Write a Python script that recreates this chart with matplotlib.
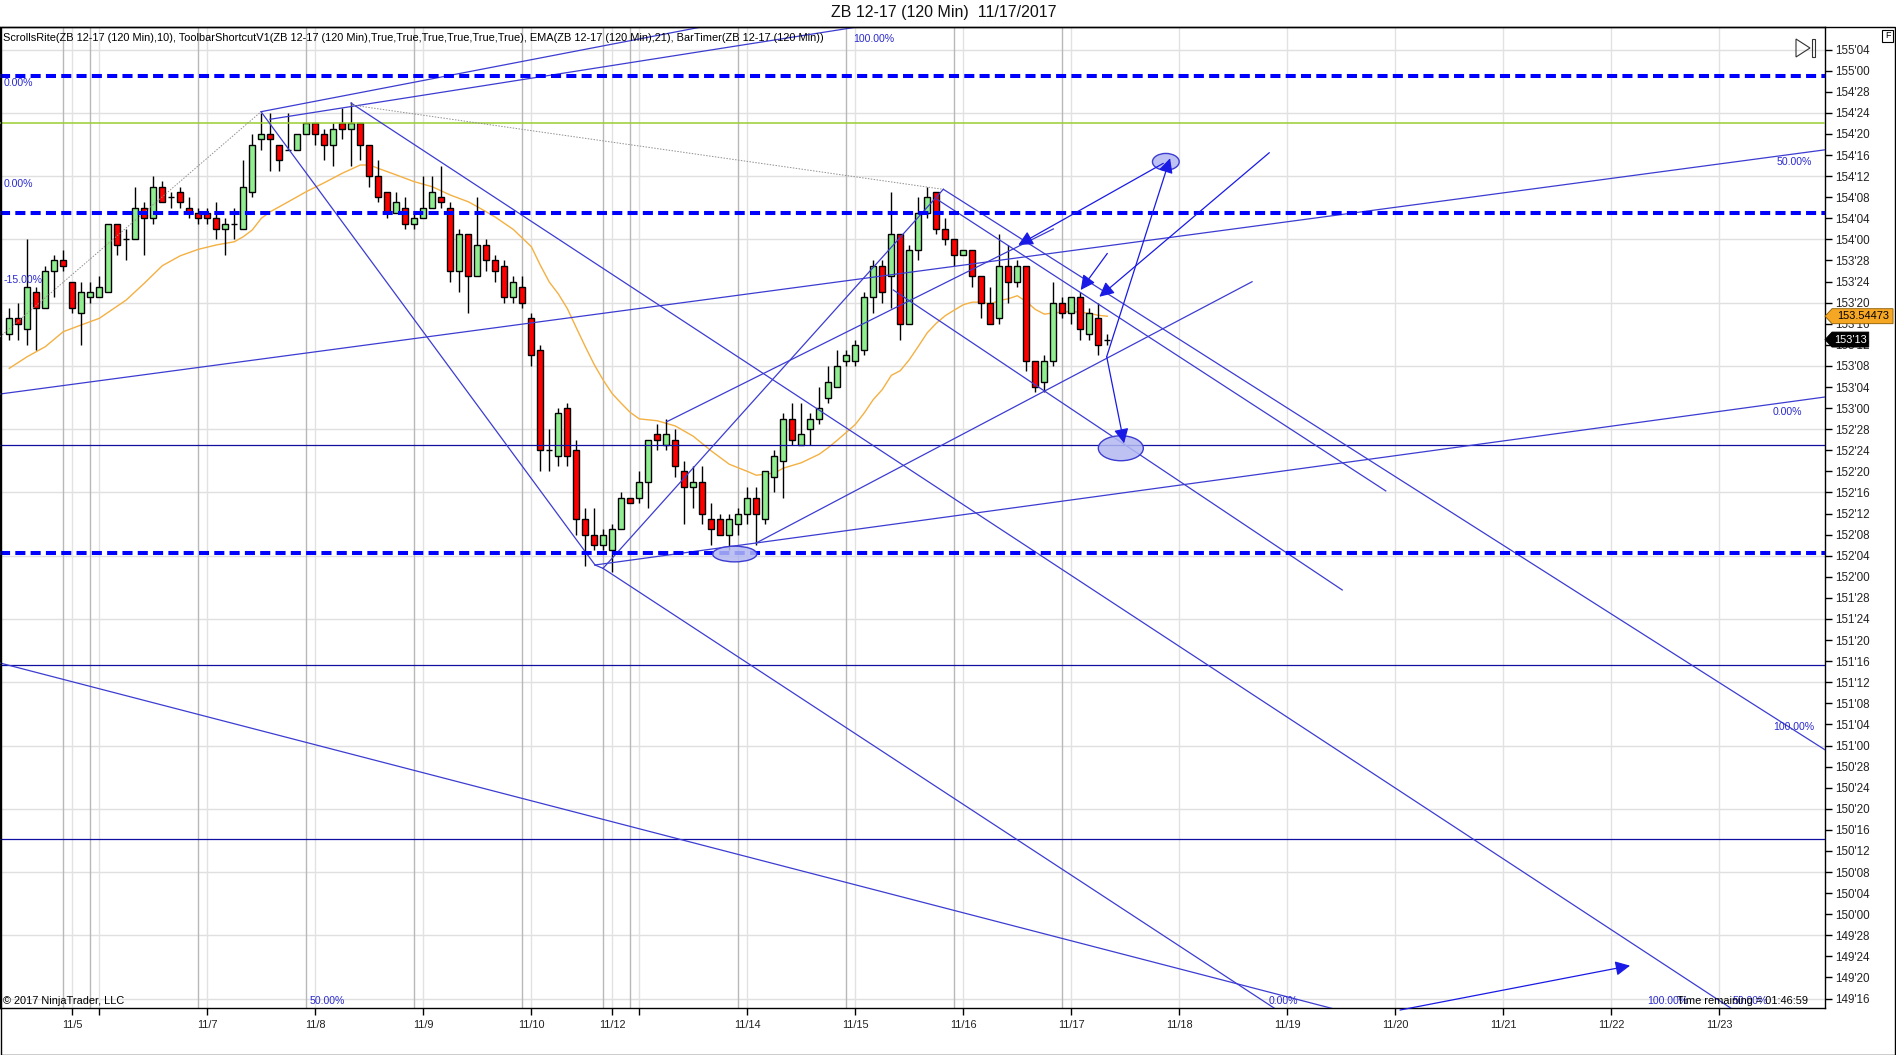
import numpy as np
import matplotlib.pyplot as plt
from matplotlib.patches import Ellipse, Polygon, Rectangle

plt.rcParams['font.family'] = ['Liberation Sans', 'DejaVu Sans']
NARROW = ['Liberation Sans Narrow', 'Liberation Sans', 'DejaVu Sans']

W, H = 1896, 1055

# ZB 12-17, 120 min bars (prices in 32nds)
opens = ["153'14", "153'17", "153'15", "153'22", "153'19", "153'26", "153'28", "153'24", "153'18", "153'21",
         "153'21", "153'22", "154'03", "154'00", "154'00", "154'06", "154'04", "154'10", "154'08", "154'09",
         "154'06", "154'05", "154'05", "154'04", "154'02", "154'03", "154'02", "154'09", "154'19", "154'20",
         "154'18", "154'17", "154'17", "154'20", "154'22", "154'20", "154'18", "154'22", "154'21", "154'22",
         "154'18", "154'12", "154'09", "154'05", "154'06", "154'03", "154'04", "154'06", "154'08", "154'06",
         "153'26", "154'01", "153'25", "153'31", "153'28", "153'27", "153'21", "153'23", "153'17", "153'11",
         "152'24", "152'23", "153'00", "152'24", "152'11", "152'08", "152'06", "152'05", "152'09", "152'15",
         "152'15", "152'18", "152'27", "152'25", "152'26", "152'20", "152'17", "152'18", "152'11", "152'11",
         "152'08", "152'10", "152'12", "152'15", "152'11", "152'19", "152'22", "152'30", "152'25", "152'28",
         "152'30", "153'02", "153'04", "153'09", "153'09", "153'11", "153'21", "153'27", "153'25", "154'01",
         "153'16", "153'30", "154'05", "154'09", "154'02", "154'00", "153'29", "153'30", "153'25", "153'20",
         "153'17", "153'27", "153'24", "153'27", "153'09", "153'05", "153'09", "153'20", "153'18", "153'21",
         "153'14", "153'17", "153'13"]
highs = ["153'19", "153'20", "154'00", "153'23", "153'27", "153'29", "153'30", "153'24", "153'24", "153'24",
         "153'25", "154'03", "154'03", "154'02", "154'10", "154'07", "154'12", "154'11", "154'09", "154'10",
         "154'08", "154'06", "154'06", "154'07", "154'04", "154'06", "154'15", "154'20", "154'24", "154'24",
         "154'18", "154'24", "154'20", "154'22", "154'22", "154'21", "154'22", "154'25", "154'26", "154'22",
         "154'18", "154'15", "154'09", "154'09", "154'08", "154'05", "154'12", "154'12", "154'14", "154'07",
         "154'02", "154'01", "154'08", "154'00", "153'29", "153'28", "153'25", "153'25", "153'18", "153'12",
         "152'28", "153'00", "153'01", "152'26", "152'13", "152'13", "152'09", "152'10", "152'16", "152'15",
         "152'20", "152'26", "152'29", "152'30", "152'28", "152'22", "152'21", "152'21", "152'14", "152'12",
         "152'12", "152'13", "152'17", "152'17", "152'20", "152'24", "152'31", "153'01", "153'01", "152'31",
         "153'04", "153'08", "153'11", "153'11", "153'13", "153'22", "153'28", "153'28", "154'09", "154'01",
         "153'31", "154'08", "154'10", "154'09", "154'04", "154'00", "153'30", "153'30", "153'25", "153'23",
         "154'01", "153'31", "153'28", "153'27", "153'09", "153'10", "153'24", "153'21", "153'21", "153'22",
         "153'19", "153'20", "153'14"]
lows = ["153'13", "153'13", "153'12", "153'11", "153'19", "153'21", "153'26", "153'18", "153'12", "153'20",
        "153'21", "153'22", "153'29", "153'28", "154'00", "153'29", "154'03", "154'07", "154'06", "154'06",
        "154'04", "154'03", "154'03", "154'00", "153'29", "154'00", "154'02", "154'08", "154'17", "154'13",
        "154'13", "154'17", "154'17", "154'20", "154'18", "154'15", "154'14", "154'19", "154'14", "154'15",
        "154'10", "154'07", "154'04", "154'05", "154'02", "154'02", "154'04", "154'06", "154'06", "153'24",
        "153'22", "153'18", "153'25", "153'26", "153'24", "153'20", "153'20", "153'19", "153'08", "152'20",
        "152'20", "152'21", "152'21", "152'08", "152'02", "152'05", "152'05", "152'01", "152'09", "152'14",
        "152'14", "152'13", "152'24", "152'24", "152'19", "152'10", "152'13", "152'10", "152'06", "152'08",
        "152'05", "152'08", "152'10", "152'06", "152'10", "152'16", "152'15", "152'25", "152'25", "152'25",
        "152'29", "153'01", "153'04", "153'08", "153'08", "153'10", "153'18", "153'20", "153'19", "153'13",
        "153'16", "153'28", "154'04", "154'01", "153'31", "153'27", "153'29", "153'23", "153'17", "153'16",
        "153'16", "153'20", "153'23", "153'07", "153'03", "153'03", "153'08", "153'17", "153'16", "153'13",
        "153'13", "153'10", "153'12"]
closes = ["153'17", "153'16", "153'23", "153'19", "153'26", "153'28", "153'27", "153'19", "153'22", "153'22",
          "153'23", "154'03", "153'31", "154'00", "154'06", "154'04", "154'10", "154'07", "154'08", "154'07",
          "154'05", "154'04", "154'04", "154'02", "154'03", "154'03", "154'10", "154'18", "154'20", "154'19",
          "154'15", "154'17", "154'20", "154'22", "154'20", "154'18", "154'21", "154'21", "154'22", "154'18",
          "154'12", "154'08", "154'05", "154'07", "154'03", "154'04", "154'06", "154'09", "154'07", "153'26",
          "154'01", "153'25", "153'31", "153'28", "153'26", "153'21", "153'24", "153'20", "153'10", "152'24",
          "152'24", "152'31", "152'23", "152'11", "152'08", "152'06", "152'08", "152'09", "152'15", "152'14",
          "152'18", "152'26", "152'26", "152'27", "152'21", "152'17", "152'18", "152'12", "152'09", "152'08",
          "152'11", "152'12", "152'15", "152'12", "152'20", "152'23", "152'30", "152'26", "152'27", "152'30",
          "153'00", "153'05", "153'08", "153'10", "153'12", "153'21", "153'27", "153'22", "154'01", "153'16",
          "153'30", "154'05", "154'08", "154'02", "154'00", "153'29", "153'30", "153'25", "153'20", "153'16",
          "153'27", "153'24", "153'27", "153'09", "153'04", "153'09", "153'20", "153'18", "153'21", "153'15",
          "153'18", "153'12", "153'13"]

# EMA(21), at bar index
ema_idx = [0, 2, 4, 6, 8, 10, 13, 15, 17, 19, 21, 23, 25, 26, 27, 28, 29, 31, 33, 35, 37, 39, 40, 41, 43, 45,
           47, 49, 51, 52, 54, 56, 58, 59, 60, 61, 62, 63, 64, 65, 66, 67, 68, 69, 70, 72, 74, 76, 78, 80, 82,
           83, 85, 86, 88, 90, 91, 92, 93, 94, 95, 96, 97, 98, 99, 100, 101, 102, 103, 104, 105, 106, 107, 108,
           109, 110, 111, 112, 113, 114, 115, 116, 118, 120, 121, 122]
ema_val = [153.236, 153.305, 153.364, 153.453, 153.493, 153.532, 153.641, 153.740, 153.844, 153.903, 153.941,
           153.967, 153.986, 154.016, 154.056, 154.125, 154.164, 154.223, 154.283, 154.336, 154.392, 154.441,
           154.441, 154.421, 154.382, 154.342, 154.312, 154.263, 154.223, 154.194, 154.132, 154.059, 153.957,
           153.847, 153.747, 153.677, 153.590, 153.476, 153.364, 153.257, 153.165, 153.085, 153.028, 152.974,
           152.936, 152.925, 152.894, 152.833, 152.746, 152.667, 152.625, 152.602, 152.615, 152.644, 152.676,
           152.727, 152.766, 152.810, 152.856, 152.903, 152.972, 153.051, 153.110, 153.194, 153.222, 153.287,
           153.366, 153.447, 153.503, 153.548, 153.581, 153.613, 153.628, 153.628, 153.617, 153.638, 153.648,
           153.666, 153.631, 153.585, 153.557, 153.564, 153.573, 153.562, 153.550, 153.54473]

# x axis: bar index of first bar of each session date
date_ticks = [7, 10, 22, 34, 46, 58, 67, 70, 82, 94, 106, 118, 130, 142, 154, 166, 178, 190]
date_labels = ["11/5", "", "11/7", "11/8", "11/9", "11/10", "11/12", "", "11/14", "11/15", "11/16",
               "11/17", "11/18", "11/19", "11/20", "11/21", "11/22", "11/23"]
session_breaks = [6, 9, 21, 33, 45, 57, 66, 69, 81, 93, 105, 117]

# drawing objects (bar index, price)
dashed_levels = [154.97, 154.157, 152.144]
green_level = 154.69
navy_levels = [152.781, 151.48, 150.445]
trend_lines = [
    (27.97, 154.757, 65.08, 152.070),
    (65.08, 152.070, 65.97, 152.050),
    (65.97, 152.050, 103.78, 154.297),
    (103.78, 154.297, 202.9, 150.935),
    (103.04, 154.239, 152.94, 152.509),
    (98.22, 153.700, 148.1, 151.922),
    (37.97, 154.808, 198.97, 149.174),
    (65.97, 152.050, 143.41, 149.343),
    (65.08, 152.070, 202.86, 153.074),
    (-1.03, 153.0835, 202.86, 154.539),
    (-1.03, 151.489, 154.52, 149.337),
    (27.97, 154.757, 77.86, 155.269),
    (28.97, 154.712, 95.63, 155.271),
    (73.04, 152.919, 116.0, 154.062),
    (82.97, 152.200, 138.08, 153.749),
]
gray_lines = [
    (-1.03, 153.423, 27.97, 154.757),
    (37.97, 154.797, 103.74, 154.297),
]
arrows = [
    (154.52, 149.432, 180.08, 149.695),
    (128.22, 154.451, 112.11, 153.967),
    (121.93, 153.305, 128.97, 154.481),
    (121.93, 153.305, 123.86, 152.791),
    (122.0, 153.917, 119.04, 153.700),
    (140.0, 154.514, 121.11, 153.660),
]
ellipses = [(80.6, 152.135, 4.9, 0.093), (128.5, 154.46, 2.97, 0.099), (123.5, 152.762, 5.0, 0.148)]
pct_labels = [
    ("0.00%", -0.59, 154.927, 'left'), ("0.00%", -0.59, 154.328, 'left'), ("-15.00%", -0.59, 153.759, 'left'),
    ("100.00%", 93.74, 155.190, 'left'), ("50.00%", 200.3, 154.459, 'right'),
    ("0.00%", 199.2, 152.977, 'right'), ("100.00%", 200.6, 151.110, 'right'),
    ("50.00%", 33.4, 149.485, 'left'), ("0.00%", 139.9, 149.485, 'left'),
    ("100.00%", 182.0, 149.485, 'left'), ("50.00%", 191.5, 149.485, 'left'),
]


def p32(s):
    a, b = s.split("'")
    return int(a) + int(b) / 32.0


def fmt32(v):
    return "%d'%02d" % (int(v), int(round((v - int(v)) * 32)))


o = np.array([p32(s) for s in opens])
h = np.array([p32(s) for s in highs])
l = np.array([p32(s) for s in lows])
c = np.array([p32(s) for s in closes])
idx = np.arange(len(o))

fig = plt.figure(figsize=(W / 100, H / 100), dpi=100)
ax = fig.add_axes([0, 1 - 1008 / H, 1825 / W, (1008 - 27) / H])
ax.set_xlim(-1.033, 201.74)
ax.set_ylim(149.444, 155.259)

# grid
for y in np.arange(149.5, 155.2, 0.375):
    ax.axhline(y, color='#e0e0e0', lw=1, zorder=0)
for x in date_ticks:
    ax.axvline(x, color='#e2e2e2', lw=1, zorder=0)
for x in session_breaks:
    ax.axvline(x, color='#b8b8b8', lw=1, zorder=0)

# EMA
ax.plot(ema_idx, ema_val, color='#f4b042', lw=1, zorder=3)

# candles
col = np.where(c > o, '#90ee90', '#ff0000')
ax.vlines(idx, l, h, color='black', lw=1, zorder=4)
ax.bar(idx, np.abs(c - o), bottom=np.minimum(o, c), width=0.68, color=col,
       edgecolor='black', linewidth=1, zorder=5)

# drawings
for y in dashed_levels:
    ax.axhline(y, color='#0000ff', lw=2.9, dashes=(2.5, 1.3), zorder=7)
ax.axhline(green_level, color='#9acd32', lw=1.1, zorder=6)
for y in navy_levels:
    ax.axhline(y, color='#1010a0', lw=0.9, zorder=6)
for x0, y0, x1, y1 in trend_lines:
    ax.plot([x0, x1], [y0, y1], color='#3c3cd2', lw=0.9, zorder=6)
for x0, y0, x1, y1 in gray_lines:
    ax.plot([x0, x1], [y0, y1], color='#909090', lw=0.7, ls=(0, (1.5, 1.5)), zorder=6)
for x0, y0, x1, y1 in arrows:
    ax.annotate('', xy=(x1, y1), xytext=(x0, y0),
                arrowprops=dict(arrowstyle='-|>', color='#1a1ae6', lw=0.9,
                                mutation_scale=22, shrinkA=0, shrinkB=0), zorder=8)
for x, y, w, hh in ellipses:
    ax.add_patch(Ellipse((x, y), w, hh, facecolor=(0.7, 0.72, 0.95, 0.85),
                         edgecolor='#3c3cd2', lw=1, zorder=7))
for txt, x, y, ha in pct_labels:
    ax.text(x, y, txt, color='#2a2ad0', fontsize=7.6, ha=ha, va='center',
            family=NARROW, zorder=9)

# axes look
for s in ax.spines.values():
    s.set_color('black')
    s.set_linewidth(1)
ax.yaxis.tick_right()
yt = np.arange(149.5, 155.2, 0.125)
ax.set_yticks(yt)
ax.set_yticklabels([fmt32(v) for v in yt])
ax.set_xticks(date_ticks)
ax.set_xticklabels(date_labels)
ax.tick_params(axis='y', direction='out', length=5, width=1, pad=2, labelsize=8.4, labelcolor='#222222')
ax.tick_params(axis='x', direction='out', length=5, width=1, pad=4, labelsize=7.9, labelcolor='#222222')

# price flags
last_ema = ema_val[-1]
last_px = c[-1]
fh = 7.5 / 168.7
ax.add_patch(Polygon([(201.74, last_ema), (202.52, last_ema + fh), (209.3, last_ema + fh),
                      (209.3, last_ema - fh), (202.52, last_ema - fh)], closed=True,
                     facecolor='#f5a623', edgecolor='#8a5a00', lw=0.6, clip_on=False, zorder=10))
ax.text(205.95, last_ema, '%.5f' % last_ema, fontsize=7.9, ha='center', va='center',
        color='black', clip_on=False, zorder=11)
ax.add_patch(Polygon([(201.74, last_px), (202.52, last_px + fh), (206.6, last_px + fh),
                      (206.6, last_px - fh), (202.52, last_px - fh)], closed=True,
                     facecolor='black', edgecolor='black', lw=0.6, clip_on=False, zorder=10))
ax.text(204.6, last_px, fmt32(last_px), fontsize=7.9, ha='center', va='center',
        color='white', clip_on=False, zorder=11)

# texts
fig.text(944 / W, 1 - 13 / H, 'ZB 12-17 (120 Min)  11/17/2017', ha='center', va='center',
         fontsize=11.5, family=NARROW, color='#111111')
ax.text(3 / 1825, 1 - 11 / 981, 'ScrollsRite(ZB 12-17 (120 Min),10), ToolbarShortcutV1(ZB 12-17 (120 Min),'
        'True,True,True,True,True,True), EMA(ZB 12-17 (120 Min),21), BarTimer(ZB 12-17 (120 Min))',
        transform=ax.transAxes, fontsize=7.9, family=NARROW, va='center', ha='left', zorder=9)
ax.text(3 / 1825, 7 / 981, '\u00a9 2017 NinjaTrader, LLC', transform=ax.transAxes, fontsize=7.9,
        family=NARROW, va='center', ha='left', zorder=9)
ax.text(1808 / 1825, 7 / 981, 'Time remaining = 01:46:59', transform=ax.transAxes, fontsize=7.9,
        family=NARROW, va='center', ha='right', zorder=9)

# chart frame and toolbar glyphs
fig.add_artist(Rectangle((0.5 / W, 1 - 1054.5 / H), 1894.5 / W, 1027.5 / H, fill=False,
                         edgecolor='black', lw=1, transform=fig.transFigure))
fig.add_artist(Polygon([(1796 / W, 1 - 39 / H), (1796 / W, 1 - 57 / H), (1810 / W, 1 - 48 / H)],
                       closed=True, fill=False, edgecolor='#333333', lw=0.8, transform=fig.transFigure))
fig.add_artist(Rectangle((1812 / W, 1 - 57 / H), 3 / W, 18 / H, fill=False, edgecolor='#333333',
                         lw=0.8, transform=fig.transFigure))
fig.add_artist(Rectangle((1882 / W, 1 - 42 / H), 11 / W, 12 / H, fill=False, edgecolor='black',
                         lw=0.8, transform=fig.transFigure))
fig.text(1887.5 / W, 1 - 36 / H, 'F', fontsize=6.5, ha='center', va='center')

fig.savefig('out.png', dpi=100)
